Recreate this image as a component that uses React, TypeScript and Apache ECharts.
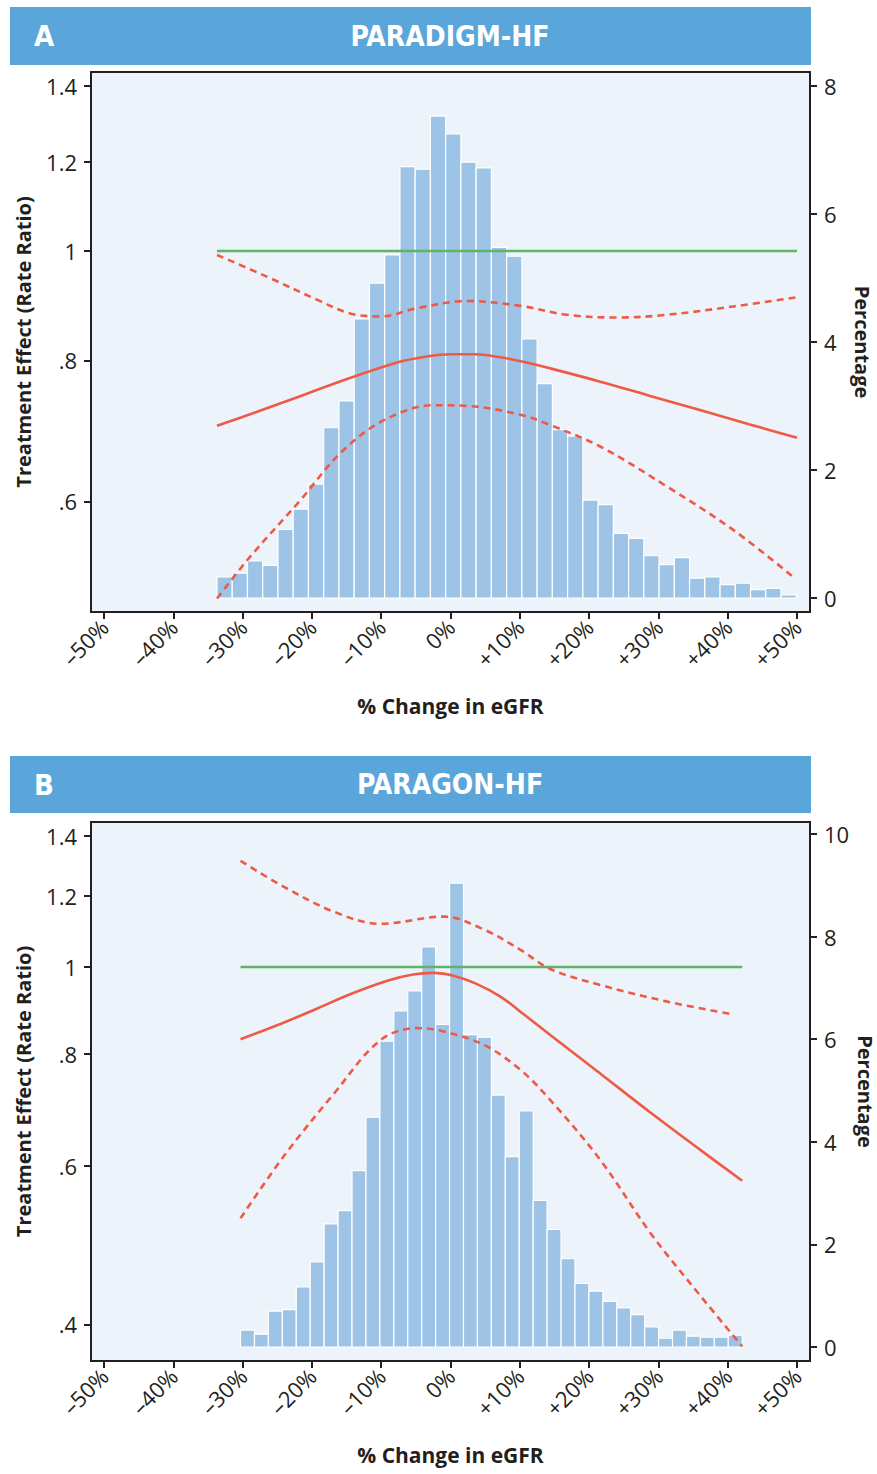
import React, { useEffect, useRef } from "react";
import * as echarts from "echarts";

// ---------- data ----------
const xTicks = [-50, -40, -30, -20, -10, 0, 10, 20, 30, 40, 50];
const ratioTicksA = [0.6, 0.8, 1, 1.2, 1.4];
const ratioTicksB = [0.4, 0.6, 0.8, 1, 1.2, 1.4];
const pctTicksA = [0, 2, 4, 6, 8];
const pctTicksB = [0, 2, 4, 6, 8, 10];

// PARADIGM-HF histogram (percentage of patients per bin)
const paradigmBinStart = -33.7;
const paradigmBinWidth = 2.2;
const paradigmBins = [
  0.33, 0.39, 0.58, 0.51, 1.07, 1.39, 1.78, 2.66, 3.08, 4.36, 4.92, 5.36, 6.74,
  6.7, 7.53, 7.25, 6.81, 6.72, 5.48, 5.34, 4.05, 3.35, 2.63, 2.53, 1.53, 1.46,
  1.01, 0.93, 0.66, 0.52, 0.63, 0.31, 0.33, 0.21, 0.23, 0.13, 0.15, 0.05,
];
// PARADIGM-HF treatment effect curves [% change, rate ratio]
const paradigmRef = [[-33.7, 1], [50, 1]];
const paradigmEst = [
  [-33.7, 0.7], [-28, 0.72], [-21.6, 0.744], [-14.4, 0.772], [-7.2, 0.798],
  [-3.6, 0.806], [0, 0.81], [3.6, 0.81], [7.2, 0.805], [10.8, 0.797],
  [14.4, 0.787], [21.6, 0.766], [28.8, 0.744], [36, 0.723], [43.2, 0.702],
  [50, 0.683],
];
const paradigmUpper = [
  [-33.7, 0.992], [-26.5, 0.949], [-19.2, 0.905], [-14.4, 0.88], [-10.1, 0.875],
  [-4.8, 0.89], [2.4, 0.903], [10.1, 0.894], [16.8, 0.878], [24.1, 0.873],
  [31.3, 0.878], [40.8, 0.893], [50, 0.91],
];
const paradigmLower = [
  [-33.7, 0.492], [-28.9, 0.536], [-21.6, 0.602], [-15.9, 0.662], [-9.6, 0.708],
  [-2.4, 0.73], [2.4, 0.729], [10.1, 0.716], [14.4, 0.701], [21.6, 0.671],
  [31.3, 0.618], [40.8, 0.566], [49.5, 0.514],
];

// PARAGON-HF histogram
const paragonBinStart = -30.3;
const paragonBinWidth = 2.011;
const paragonBins = [
  0.33, 0.25, 0.7, 0.73, 1.17, 1.66, 2.4, 2.66, 3.44, 4.48, 5.96, 6.55, 6.94,
  7.8, 6.29, 9.04, 6.09, 6.04, 4.91, 3.71, 4.6, 2.86, 2.29, 1.72, 1.24, 1.09,
  0.89, 0.76, 0.63, 0.39, 0.17, 0.33, 0.21, 0.19, 0.19, 0.23,
];
const paragonRef = [[-30.3, 1], [42.1, 1]];
const paragonEst = [
  [-30.3, 0.831], [-25.2, 0.86], [-19.8, 0.895], [-14.4, 0.933], [-9, 0.966],
  [-5.4, 0.981], [-2.5, 0.985], [0.4, 0.978], [3.6, 0.959], [7.2, 0.927],
  [10.8, 0.883], [14.4, 0.84], [21.6, 0.761], [28.8, 0.689], [36, 0.626],
  [42.1, 0.578],
];
const paragonUpper = [
  [-30.3, 1.313], [-24.1, 1.229], [-16.8, 1.152], [-10.1, 1.117], [-1.0, 1.138],
  [4.8, 1.101], [10.1, 1.045], [14.4, 0.995], [21.6, 0.955], [31.3, 0.915],
  [40.6, 0.886],
];
const paragonLower = [
  [-30.3, 0.525], [-24.1, 0.615], [-16.8, 0.723], [-10.1, 0.829], [-4.8, 0.855],
  [-1.4, 0.849], [4.8, 0.819], [10.1, 0.768], [14.4, 0.711], [21.6, 0.61],
  [28.9, 0.505], [36.1, 0.43], [42.1, 0.378],
];

// ---------- styling ----------
const RED = "#ef5a45";
const GREEN = "#5db565";
const BAR = "#9dc3e6";
const HEADER = "#5aa6da";
const INK = "#231f20";
const FONT = "'Open Sans', 'Noto Sans', sans-serif";
const COND = "'Liberation Sans Narrow', 'DejaVu Sans Condensed', 'Open Sans', sans-serif";

const fmtX = (v: number) => {
  const r = Math.round(v);
  if (r === 0) return "0%";
  return (r < 0 ? "\u2013" : "+") + Math.abs(r) + "%";
};
const fmtRatio = (ticks: number[]) => (v: number) => {
  let best = ticks[0];
  for (const t of ticks) if (Math.abs(Math.log(t) - v) < Math.abs(Math.log(best) - v)) best = t;
  if (best >= 1) return String(best);
  return "." + Math.round(best * 10);
};

const toLn = (pts: number[][]) => pts.map(([x, r]) => [x, Math.log(r)]);

function buildBins(start: number, width: number, heights: number[]) {
  return heights.map((h, i) => [start + i * width, start + (i + 1) * width, h]);
}

export default function App() {
  const ref = useRef<HTMLDivElement>(null);

  useEffect(() => {
    document.body.style.margin = "0";
    const chart = echarts.init(ref.current!, undefined, { renderer: "svg" });

    const labelStyle = { color: INK, fontSize: 22, fontFamily: FONT };
    const tickStyle = { show: true, length: 7, lineStyle: { color: INK, width: 2 } };

    const xAxis = (gi: number) => ({
      type: "value",
      gridIndex: gi,
      min: -51.88,
      max: 51.88,
      splitLine: { show: false },
      axisLine: { show: false, onZero: false },
      axisTick: { ...tickStyle, customValues: xTicks },
      axisLabel: { ...labelStyle, rotate: 45, margin: 11, customValues: xTicks, formatter: fmtX },
      name: "% Change in eGFR",
      nameLocation: "middle",
      nameGap: 83,
      nameTextStyle: { color: INK, fontSize: 21, fontWeight: "bold", fontFamily: FONT },
    });

    const leftAxis = (gi: number, min: number, max: number, ticks: number[]) => ({
      type: "value",
      gridIndex: gi,
      position: "left",
      min,
      max,
      splitLine: { show: false },
      axisLine: { show: false, onZero: false },
      axisTick: { ...tickStyle, customValues: ticks.map(Math.log) },
      axisLabel: { ...labelStyle, margin: 14, customValues: ticks.map(Math.log), formatter: fmtRatio(ticks) },
      name: "Treatment Effect (Rate Ratio)",
      nameLocation: "middle",
      nameGap: 58,
      nameRotate: 90,
      nameTextStyle: { color: INK, fontSize: 20, fontWeight: "bold", fontFamily: FONT },
    });

    const rightAxis = (gi: number, min: number, max: number, ticks: number[], gap: number) => ({
      type: "value",
      gridIndex: gi,
      position: "right",
      min,
      max,
      splitLine: { show: false },
      axisLine: { show: false, onZero: false },
      axisTick: { ...tickStyle, customValues: ticks },
      axisLabel: { ...labelStyle, margin: 14, customValues: ticks },
      name: "Percentage",
      nameLocation: "middle",
      nameGap: gap,
      nameMoveOverlap: false,
      nameRotate: -90,
      nameTextStyle: { color: INK, fontSize: 20, fontWeight: "bold", fontFamily: FONT },
    });

    const barSeries = (xi: number, yi: number, data: number[][]) => ({
      type: "custom",
      xAxisIndex: xi,
      yAxisIndex: yi,
      z: 2,
      data,
      encode: { x: [0, 1], y: 2 },
      renderItem: (params: any, api: any) => {
        const p0 = api.coord([api.value(0), api.value(2)]);
        const p1 = api.coord([api.value(1), 0]);
        return {
          type: "rect",
          shape: { x: p0[0], y: p0[1], width: p1[0] - p0[0], height: p1[1] - p0[1] },
          style: { fill: BAR, stroke: "#ffffff", lineWidth: 1.2 },
        };
      },
    });

    const lineSeries = (xi: number, yi: number, data: number[][], color: string, dashed: boolean, width = 2.6) => ({
      type: "line",
      xAxisIndex: xi,
      yAxisIndex: yi,
      z: 5,
      data: toLn(data),
      smooth: 0.35,
      showSymbol: false,
      symbol: "none",
      lineStyle: { color, width, type: dashed ? [7, 5] : "solid" },
    });

    const header = (y: number, h: number, letter: string, title: string) => [
      { type: "rect", shape: { x: 10, y, width: 801, height: h }, style: { fill: HEADER } },
      {
        type: "text",
        x: 44,
        y: y + h / 2,
        style: { text: letter, fill: "#fff", font: `bold 29px ${COND}`, align: "center", verticalAlign: "middle" },
      },
      {
        type: "text",
        x: 450,
        y: y + h / 2,
        style: { text: title, fill: "#fff", font: `bold 28px ${COND}`, align: "center", verticalAlign: "middle" },
      },
    ];

    const gridBase = {
      show: true,
      backgroundColor: "#ecf3fb",
      borderColor: INK,
      borderWidth: 2,
      containLabel: false,
      outerBoundsMode: "none",
    };

    chart.setOption({
      animation: false,
      grid: [
        { ...gridBase, left: 91, top: 72, width: 719, height: 540 },
        { ...gridBase, left: 91, top: 822, width: 719, height: 539 },
      ],
      xAxis: [xAxis(0), xAxis(1)],
      yAxis: [
        leftAxis(0, -0.7367, 0.3653, ratioTicksA),
        rightAxis(0, -0.219, 8.219, pctTicksA, 42),
        leftAxis(1, -1.0103, 0.3718, ratioTicksB),
        rightAxis(1, -0.273, 10.234, pctTicksB, 45),
      ],
      graphic: [...header(7, 58, "A", "PARADIGM-HF"), ...header(756, 57, "B", "PARAGON-HF")],
      series: [
        barSeries(0, 1, buildBins(paradigmBinStart, paradigmBinWidth, paradigmBins)),
        lineSeries(0, 0, paradigmRef, GREEN, false, 2.4),
        lineSeries(0, 0, paradigmEst, RED, false),
        lineSeries(0, 0, paradigmUpper, RED, true),
        lineSeries(0, 0, paradigmLower, RED, true),
        barSeries(1, 3, buildBins(paragonBinStart, paragonBinWidth, paragonBins)),
        lineSeries(1, 2, paragonRef, GREEN, false, 2.4),
        lineSeries(1, 2, paragonEst, RED, false),
        lineSeries(1, 2, paragonUpper, RED, true),
        lineSeries(1, 2, paragonLower, RED, true),
      ],
    });

    return () => chart.dispose();
  }, []);

  return <div ref={ref} style={{ width: 877, height: 1474 }} />;
}
